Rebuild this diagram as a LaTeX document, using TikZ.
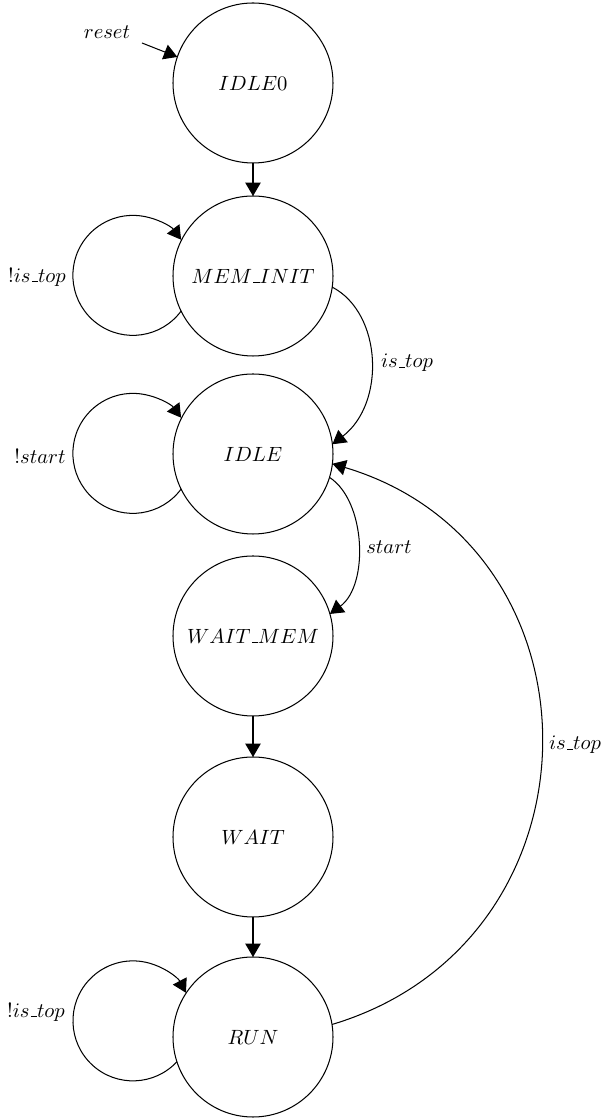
\documentclass[tikz,border=0pt]{standalone}
\usetikzlibrary{arrows.meta}
\newcommand{\uscore}{\kern.06em\vbox{\hrule width.3em}}
\begin{document}
\begin{tikzpicture}[x=0.485pt,y=0.485pt,
  state/.style={draw,circle,minimum size=77.6pt,inner sep=0pt,outer sep=0pt,line width=0.5pt},
  arr/.style={line width=0.5pt,-{Triangle[length=6.5pt,width=7.5pt]}},
  lbl/.style={inner sep=0pt}]
\useasboundingbox (0,0) rectangle (607,1119);
% states
\node[state] (IDLE0) at (253,1036) {$IDLE0$};
\node[state] (MEM)   at (253,843)  {$MEM\uscore INIT$};
\node[state] (IDLE)  at (253,665)  {$IDLE$};
\node[state] (WM)    at (253,483)  {$WAIT\uscore MEM$};
\node[state] (WAIT)  at (253,282)  {$WAIT$};
\node[state] (RUN)   at (253,82)   {$RUN$};
% reset
\coordinate (r0) at (142,1076);
\node[lbl] (lreset) at (107,1087) {$reset$};
\draw[arr] (r0) -- (IDLE0.161.1);
% straight edges
\draw[arr] (IDLE0) -- (MEM);
\draw[arr] (WM) -- (WAIT);
\draw[arr] (WAIT) -- (RUN);
% self loops
\draw[arr] (MEM.206.2) arc[start angle=-36.5,end angle=-323.5,radius=29.1pt];
\node[lbl] (lmem) at (37,842) {$!is\uscore top$};
\draw[arr] (IDLE.206.2) arc[start angle=-36.5,end angle=-323.5,radius=29.1pt];
\node[lbl] (lidle) at (40,663) {$!start$};
\draw[arr] (RUN.198.06) arc[start angle=-42.9,end angle=-332.1,radius=29.1pt];
\node[lbl] (lrun) at (36,107) {$!is\uscore top$};
% curved edges
\draw[arr] (MEM.-8.6) .. controls (382,806) and (386,716) .. (IDLE.7.8);
\node[lbl] (l1) at (407,756) {$is\uscore top$};
\draw[arr] (IDLE.-17.3) .. controls (366,618) and (369,534) .. (WM.16.6);
\node[lbl] (l2) at (389,572) {$start$};
\draw[arr] (RUN.9.2) .. controls (610.5,178) and (611,572) .. (IDLE.-7.8);
\node[lbl] (l3) at (575,374) {$is\uscore top$};
\end{tikzpicture}
\end{document}
